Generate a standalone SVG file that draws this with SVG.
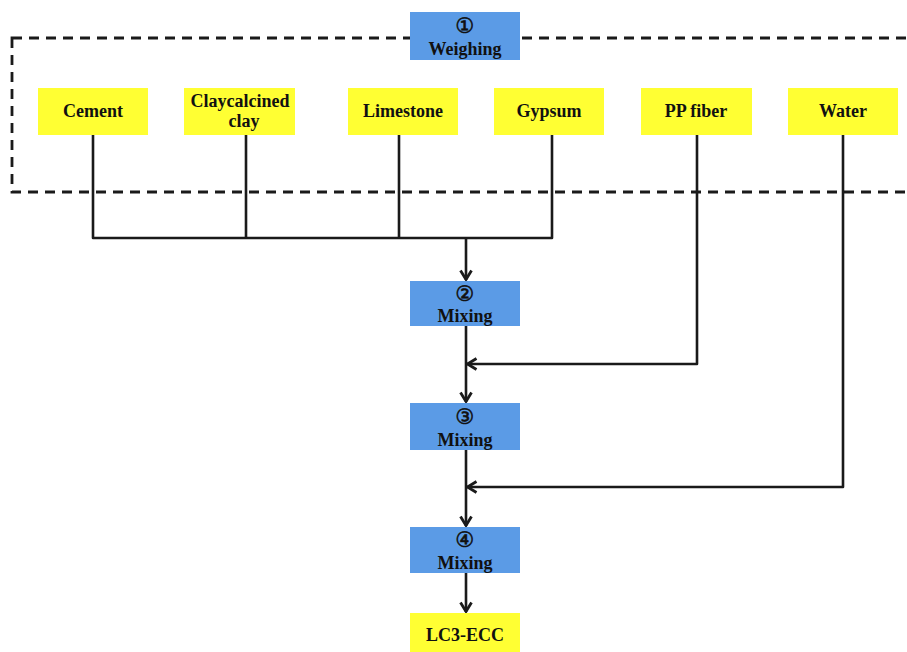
<svg xmlns="http://www.w3.org/2000/svg" width="907" height="652" viewBox="0 0 907 652">
<style>
.blue{fill:#5b9be6;}
.yel{fill:#ffff33;}
.t{font-family:"Liberation Serif","Times New Roman",serif;font-weight:bold;font-size:18px;fill:#111;text-anchor:middle;}
.c{font-family:"DejaVu Sans","Liberation Serif",sans-serif;font-weight:normal;font-size:21px;fill:#111;stroke:#111;stroke-width:0.6;text-anchor:middle;}
.ln{fill:none;stroke:#1a1a1a;stroke-width:2.6;stroke-linejoin:round;}
.dash{fill:none;stroke:#1a1a1a;stroke-width:2.8;stroke-dasharray:10,7;}
</style>
<defs>
<marker id="ah" viewBox="0 0 12 14" refX="11" refY="7" markerWidth="12" markerHeight="14" markerUnits="userSpaceOnUse" orient="auto">
<path d="M1.5,1.5 L10.5,7 L1.5,12.5" fill="none" stroke="#1a1a1a" stroke-width="2.8"/>
</marker>
</defs>
<rect class="dash" x="12" y="38" width="905" height="154"/>
<g id="connectors">
<path class="ln" d="M93,135 V238 H552 V135"/>
<path class="ln" d="M246,135 V238"/>
<path class="ln" d="M399,135 V238"/>
<path class="ln" d="M466,238 V280" marker-end="url(#ah)"/>
<path class="ln" d="M466,326 V402" marker-end="url(#ah)"/>
<path class="ln" d="M697,135 V364 H467" marker-end="url(#ah)"/>
<path class="ln" d="M466,450 V526" marker-end="url(#ah)"/>
<path class="ln" d="M843,135 V487 H467" marker-end="url(#ah)"/>
<path class="ln" d="M466,573 V612" marker-end="url(#ah)"/>
</g>
<g id="weighing"><rect class="blue" x="410" y="12" width="110" height="48"/><text class="c" x="465" y="33">①</text><text class="t" x="465" y="55">Weighing</text></g>
<g id="cement"><rect class="yel" x="38" y="88" width="110" height="47"/><text class="t" x="93" y="117">Cement</text></g>
<g id="clay"><rect class="yel" x="184" y="88" width="111" height="47"/><text class="t" x="240" y="107">Claycalcined</text><text class="t" x="244" y="127">clay</text></g>
<g id="limestone"><rect class="yel" x="348" y="88" width="110" height="47"/><text class="t" x="403" y="117">Limestone</text></g>
<g id="gypsum"><rect class="yel" x="494" y="88" width="110" height="47"/><text class="t" x="549" y="117">Gypsum</text></g>
<g id="ppfiber"><rect class="yel" x="641" y="88" width="111" height="47"/><text class="t" x="696" y="117">PP fiber</text></g>
<g id="water"><rect class="yel" x="788" y="88" width="110" height="47"/><text class="t" x="843" y="117">Water</text></g>
<g id="mixing2"><rect class="blue" x="410" y="281" width="110" height="45"/><text class="c" x="465" y="301">②</text><text class="t" x="465" y="322">Mixing</text></g>
<g id="mixing3"><rect class="blue" x="410" y="403" width="110" height="47"/><text class="c" x="465" y="424">③</text><text class="t" x="465" y="446">Mixing</text></g>
<g id="mixing4"><rect class="blue" x="410" y="527" width="110" height="46"/><text class="c" x="465" y="547">④</text><text class="t" x="465" y="569">Mixing</text></g>
<g id="lc3ecc"><rect class="yel" x="410" y="613" width="110" height="39"/><text class="t" x="465" y="641">LC3-ECC</text></g>
</svg>
